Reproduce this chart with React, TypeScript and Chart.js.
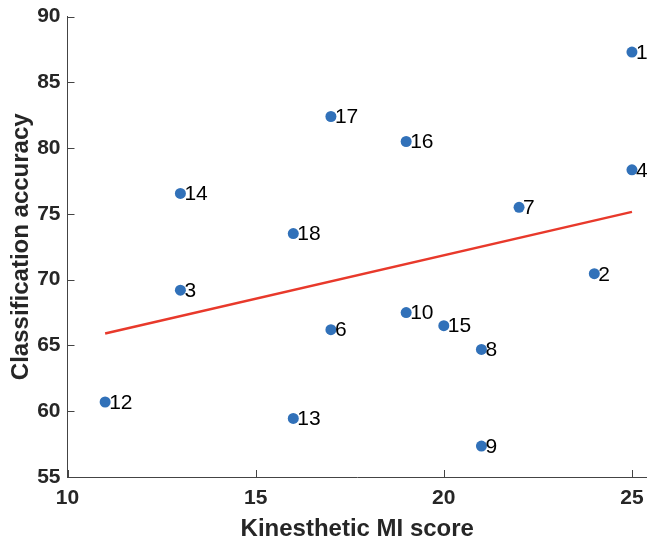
import React, { useEffect, useRef } from "react";
import { Chart, registerables } from "chart.js";

Chart.register(...registerables);

// Subject ids, kinesthetic MI score (x) and classification accuracy (y)
const subjectIds = ["1", "2", "3", "4", "6", "7", "8", "9", "10", "12", "13", "14", "15", "16", "17", "18"];
const miScores = [25, 24, 13, 25, 17, 22, 21, 21, 19, 11, 16, 13, 20, 19, 17, 16];
const accuracies = [87.3, 70.45, 69.2, 78.35, 66.2, 75.5, 64.7, 57.35, 67.5, 60.7, 59.45, 76.55, 66.5, 80.5, 82.4, 73.5];

// Fitted trend line end points
const fitX = [11, 25];
const fitY = [65.9, 75.15];

// Axis ticks
const xTicks = [10, 15, 20, 25];
const yTicks = [55, 60, 65, 70, 75, 80, 85, 90];

const xTitle = "Kinesthetic MI score";
const yTitle = "Classification accuracy";

const FONT = '"Liberation Sans", Arial, Helvetica, sans-serif';

export default function App() {
  const ref = useRef<HTMLCanvasElement | null>(null);

  useEffect(() => {
    const canvas = ref.current;
    if (!canvas) return;

    const inwardTicks = {
      id: "inwardTicks",
      afterDraw(chart: any) {
        const ctx = chart.ctx;
        const xs = chart.scales.x;
        const ys = chart.scales.y;
        const area = chart.chartArea;
        ctx.save();
        ctx.strokeStyle = "#444444";
        ctx.lineWidth = 1;
        ctx.beginPath();
        xTicks.forEach((v) => {
          const px = Math.round(xs.getPixelForValue(v)) + 0.5;
          ctx.moveTo(px, area.bottom);
          ctx.lineTo(px, area.bottom - 7);
        });
        yTicks.forEach((v) => {
          const py = Math.round(ys.getPixelForValue(v)) + 0.5;
          ctx.moveTo(area.left, py);
          ctx.lineTo(area.left + 7, py);
        });
        ctx.stroke();
        ctx.restore();
      },
    };

    const pointLabels = {
      id: "pointLabels",
      afterDatasetsDraw(chart: any) {
        const ctx = chart.ctx;
        const meta = chart.getDatasetMeta(1);
        ctx.save();
        ctx.fillStyle = "#000000";
        ctx.font = `21px ${FONT}`;
        ctx.textAlign = "left";
        ctx.textBaseline = "middle";
        meta.data.forEach((el: any, i: number) => {
          ctx.fillText(subjectIds[i], el.x + 4, el.y + 1);
        });
        ctx.restore();
      },
    };

    const chart = new Chart(canvas, {
      type: "scatter",
      data: {
        datasets: [
          {
            type: "line",
            data: fitX.map((x, i) => ({ x, y: fitY[i] })),
            borderColor: "#E8392B",
            borderWidth: 2.5,
            pointRadius: 0,
            fill: false,
          } as any,
          {
            data: miScores.map((x, i) => ({ x, y: accuracies[i] })),
            backgroundColor: "#3171B9",
            borderColor: "#3171B9",
            pointRadius: 5.5,
            pointBorderWidth: 0,
          },
        ],
      },
      options: {
        responsive: false,
        animation: false,
        devicePixelRatio: 1,
        layout: { autoPadding: false, padding: { left: 0, right: 0, top: 16.5, bottom: 0 } },
        plugins: {
          legend: { display: false },
          tooltip: { enabled: false },
        },
        scales: {
          x: {
            type: "linear",
            min: 10,
            max: 25.4,
            afterBuildTicks: (s: any) => {
              s.ticks = xTicks.map((v) => ({ value: v }));
            },
            afterFit: (s: any) => {
              s.height = 62;
              s.paddingLeft = 0;
              s.paddingRight = 0;
            },
            grid: { display: true, drawOnChartArea: false, drawTicks: false },
            border: { display: true, color: "#444444", width: 1 },
            ticks: {
              color: "#262626",
              font: { family: FONT, size: 21, weight: "bold" },
              padding: 9,
              maxRotation: 0,
            },
            title: {
              display: true,
              text: xTitle,
              color: "#262626",
              font: { family: FONT, size: 24, weight: "bold", lineHeight: 0.8 },
              padding: { top: 0, bottom: 0 },
            },
          },
          y: {
            type: "linear",
            min: 55,
            max: 90,
            afterBuildTicks: (s: any) => {
              s.ticks = yTicks.map((v) => ({ value: v }));
            },
            afterFit: (s: any) => {
              s.width = 67.5;
              s.paddingTop = 0;
              s.paddingBottom = 0;
            },
            grid: { display: true, drawOnChartArea: false, drawTicks: false },
            border: { display: true, color: "#444444", width: 1 },
            ticks: {
              color: "#262626",
              font: { family: FONT, size: 21, weight: "bold" },
              padding: 7,
            },
            title: {
              display: true,
              text: yTitle,
              color: "#262626",
              font: { family: FONT, size: 24, weight: "bold", lineHeight: 1.2 },
              padding: { top: 7, bottom: 0 },
            },
          },
        },
      },
      plugins: [inwardTicks, pointLabels],
    } as any);

    return () => chart.destroy();
  }, []);

  return (
    <div style={{ position: "fixed", left: 0, top: 0, width: 647, height: 539, background: "#fff" }}>
      <canvas ref={ref} width={647} height={539} />
    </div>
  );
}
